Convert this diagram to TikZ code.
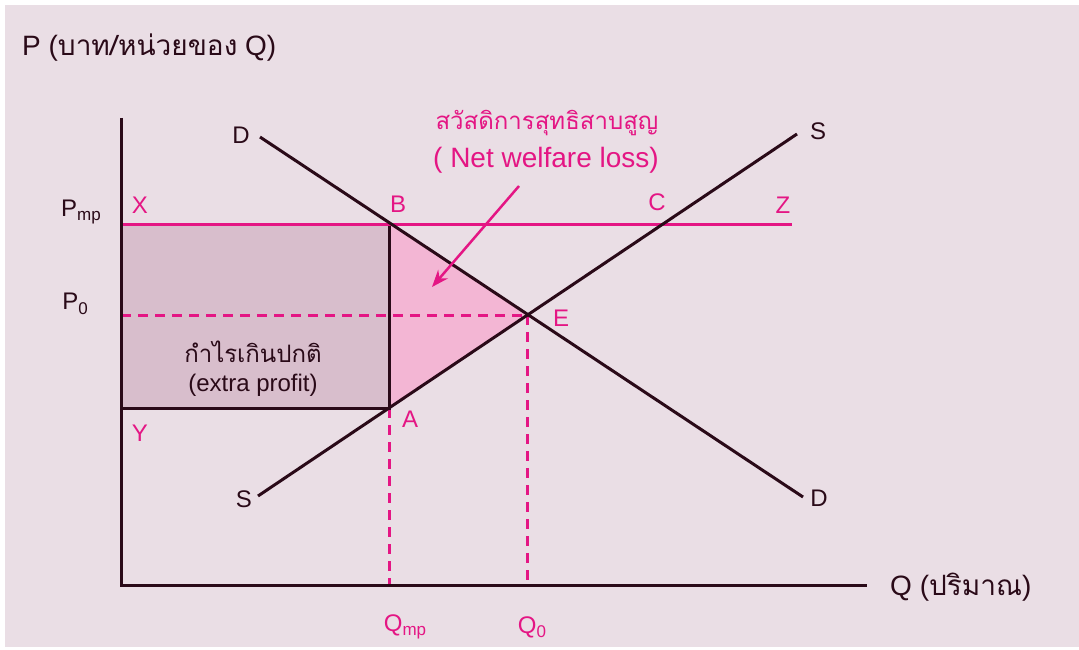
\documentclass[tikz,border=0pt]{standalone}
\usepackage{fontspec}
\setmainfont{Liberation Sans}
\newfontfamily\thai[Script=Thai]{Loma}
\usetikzlibrary{arrows.meta}
\definecolor{bg}{RGB}{234,222,229}
\definecolor{mag}{RGB}{228,22,132}
\definecolor{ink}{RGB}{42,10,24}
\definecolor{profit}{RGB}{216,190,204}
\definecolor{loss}{RGB}{243,182,212}
\newcommand{\sub}[1]{\raisebox{-0.35ex}{\fontsize{17}{19}\selectfont #1}}
\tikzset{
  lbl/.style={inner sep=0pt, font=\fontsize{24}{28}\selectfont},
  biglbl/.style={inner sep=0pt, font=\fontsize{28}{32}\selectfont},
  inklbl/.style={lbl, text=ink},
  maglbl/.style={lbl, text=mag},
  inkline/.style={draw=ink, line width=3pt},
  magline/.style={draw=mag, line width=3pt},
  magdash/.style={draw=mag, line width=3pt, dash pattern=on 10pt off 7pt},
}
\begin{document}
\begin{tikzpicture}[x=1pt,y=-1pt]
\useasboundingbox (0,0) rectangle (1079,650);
\fill[white] (0,0) rectangle (1079,650);
\fill[bg] (5,5) rectangle (1079,647);
% points
\coordinate (O) at (121,585);
\coordinate (Ytop) at (121,118);
\coordinate (Xend) at (867,585);
\coordinate (B) at (389,224);
\coordinate (A) at (389,408);
\coordinate (E) at (527,315);
\coordinate (Xp) at (121,224);
\coordinate (Yp) at (121,408);
\coordinate (P0p) at (121,315);
\coordinate (Zp) at (792,224);
\coordinate (Dtop) at (260,137);
\coordinate (Dbot) at (803,497);
\coordinate (Sbot) at (258,496);
\coordinate (Stop) at (797,134);
\coordinate (Qmpp) at (389,585);
\coordinate (Q0p) at (527,585);
\coordinate (arrtail) at (519,186);
\coordinate (arrhead) at (432,287);
% areas
\fill[profit] (Xp) rectangle (A);
\fill[loss] (B) -- (E) -- (A) -- cycle;
% lines
\draw[magdash] (P0p) -- (E);
\draw[magdash] (A) -- (Qmpp);
\draw[magdash] (E) -- (Q0p);
\draw[inkline] (Yp) -- (A) -- (B);
\draw[magline] (Xp) -- (Zp);
\draw[inkline] (Dtop) -- (Dbot);
\draw[inkline] (Sbot) -- (Stop);
\draw[inkline] (Ytop) -- (O) -- (Xend);
\draw[mag, line width=2.5pt, -{Stealth[length=17pt,width=13pt]}] (arrtail) -- (arrhead);
% labels
\node[biglbl, text=ink, anchor=west] (ptitle) at (22,48) {P (\thai บาท/หน่วยของ\normalfont{} Q)};
\node[biglbl, text=ink, anchor=west] (qtitle) at (890,587) {Q (\thai ปริมาณ\normalfont)};
\node[inklbl] (dtop) at (241,135) {D};
\node[inklbl] (stop) at (818,131) {S};
\node[inklbl] (dbot) at (819,498) {D};
\node[inklbl] (sbot) at (244,499) {S};
\node[inklbl] (pmp) at (81,212) {P\sub{mp}};
\node[inklbl] (p0) at (75,304) {P\sub{0}};
\node[maglbl] (xl) at (140,205) {X};
\node[maglbl] (bl) at (398,204) {B};
\node[maglbl] (cl) at (657,202) {C};
\node[maglbl] (zl) at (783,205) {Z};
\node[maglbl] (el) at (561,318) {E};
\node[maglbl] (al) at (410,419) {A};
\node[maglbl] (yl) at (140,433) {Y};
\node[inklbl] (profit1) at (253,352) {\thai กำไรเกินปกติ};
\node[inklbl] (profit2) at (253,385) {(extra profit)};
\node[maglbl] (loss1) at (547,123) {\thai สวัสดิการสุทธิสาบสูญ};
\node[biglbl, text=mag] (loss2) at (546,160) {( Net welfare loss)};
\node[maglbl] (qmp) at (405,627) {Q\sub{mp}};
\node[maglbl] (q0) at (532,627) {Q\sub{0}};
\end{tikzpicture}
\end{document}
